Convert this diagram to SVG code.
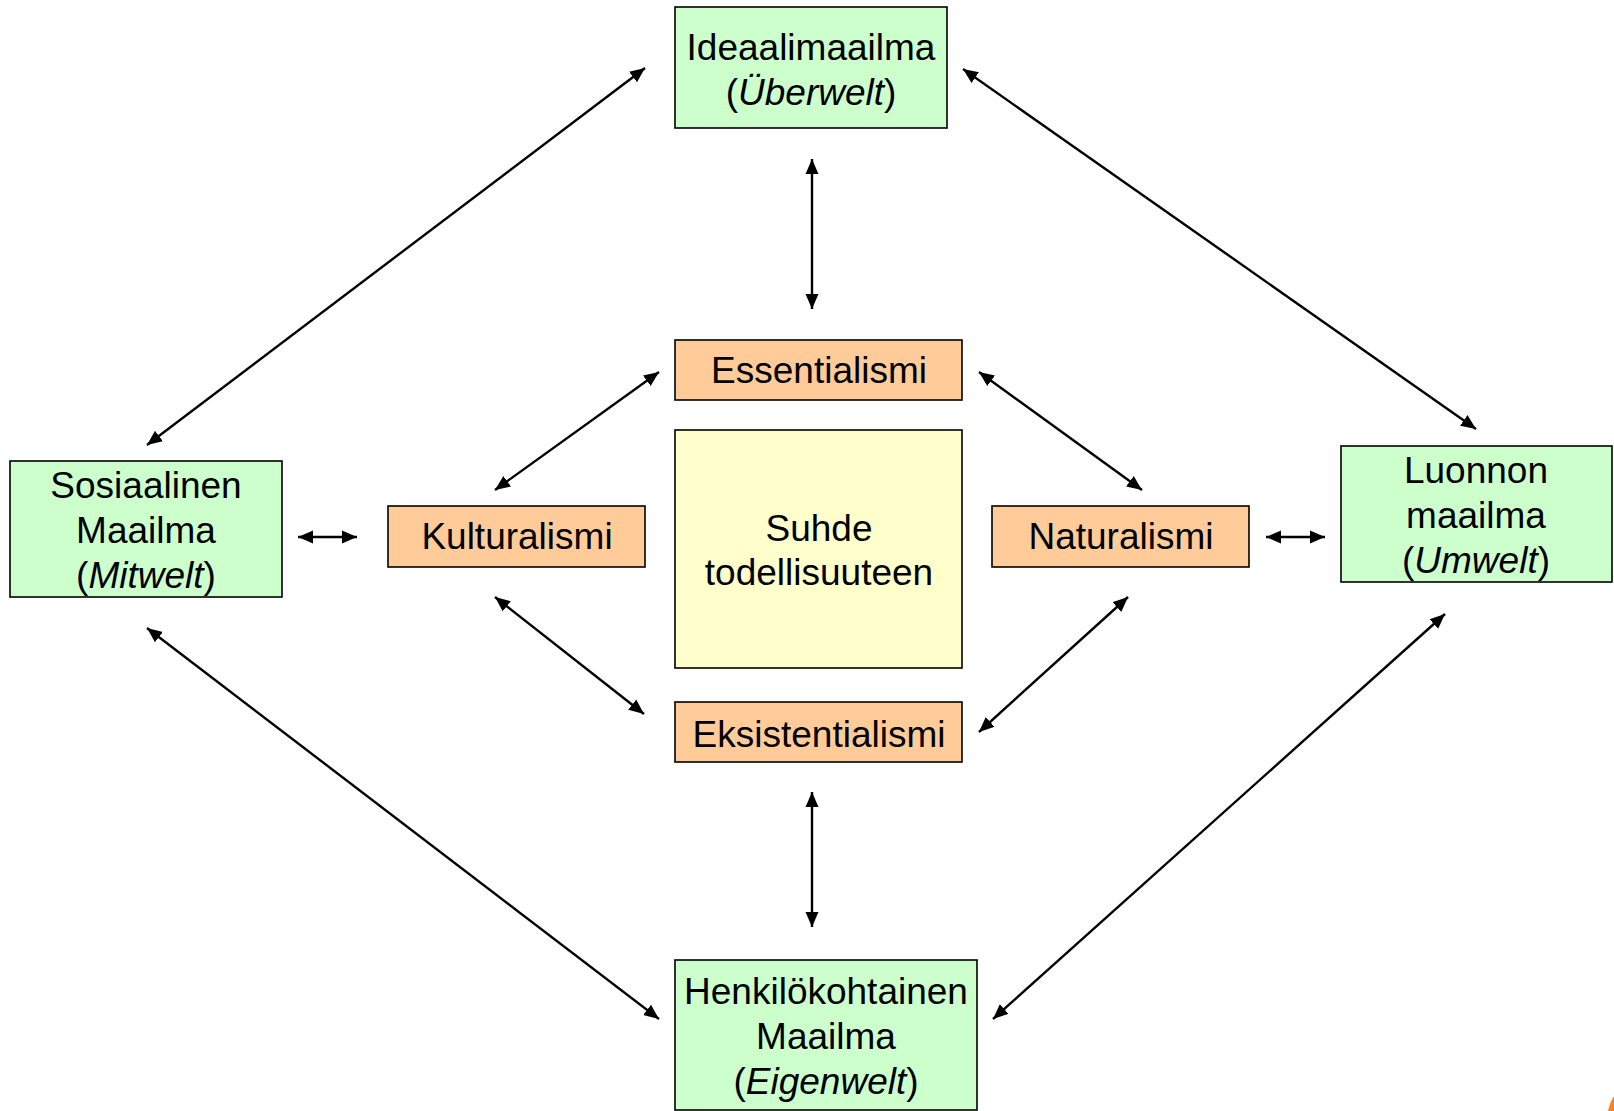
<svg xmlns="http://www.w3.org/2000/svg" width="1614" height="1111" viewBox="0 0 1614 1111">
<defs>
<marker id="ah" markerUnits="userSpaceOnUse" markerWidth="16" markerHeight="14" refX="15" refY="7" orient="auto-start-reverse">
<path d="M0,0.5 L15,7 L0,13.5 z" fill="#000"/>
</marker>
<style>
.g{fill:#CCFFCC;stroke:#000;stroke-width:1.6}
.o{fill:#FFCC99;stroke:#000;stroke-width:1.6}
.y{fill:#FFFFCC;stroke:#000;stroke-width:1.6}
text{font-family:"Liberation Sans",Arial,sans-serif;font-size:37px;fill:#000;text-anchor:middle}
.i{font-style:italic}
.c line{stroke:#000;stroke-width:2.4;marker-start:url(#ah);marker-end:url(#ah)}
</style>
</defs>
<rect width="1614" height="1111" fill="#fff"/>
<g class="c" id="connectors">
<line x1="645" y1="68" x2="147" y2="445"/>
<line x1="963" y1="69" x2="1476" y2="429"/>
<line x1="812" y1="159" x2="812" y2="309"/>
<line x1="659" y1="372" x2="495" y2="490"/>
<line x1="979" y1="372" x2="1142" y2="490"/>
<line x1="298" y1="537" x2="357" y2="537"/>
<line x1="1266" y1="537" x2="1325" y2="537"/>
<line x1="495" y1="597" x2="644" y2="714"/>
<line x1="1128" y1="597" x2="979" y2="732"/>
<line x1="812" y1="792" x2="812" y2="927"/>
<line x1="147" y1="628" x2="659" y2="1019"/>
<line x1="1445" y1="614" x2="993" y2="1019"/>
</g>
<g id="ideaal"><rect class="g" x="675" y="7" width="272" height="121"/>
<text x="811" y="60">Ideaalimaailma</text><text x="811" y="105">(<tspan class="i">Überwelt</tspan>)</text></g>
<g id="essential"><rect class="o" x="675" y="340" width="287" height="60"/><text x="819" y="383">Essentialismi</text></g>
<g id="suhde"><rect class="y" x="675" y="430" width="287" height="238"/><text x="819" y="541">Suhde</text><text x="819" y="585">todellisuuteen</text></g>
<g id="eksist"><rect class="o" x="675" y="702" width="287" height="60"/><text x="819" y="747">Eksistentialismi</text></g>
<g id="kultur"><rect class="o" x="388" y="506" width="257" height="61"/><text x="517" y="549">Kulturalismi</text></g>
<g id="natural"><rect class="o" x="992" y="506" width="257" height="61"/><text x="1121" y="549">Naturalismi</text></g>
<g id="sosiaal"><rect class="g" x="10" y="461" width="272" height="136"/>
<text x="146" y="498">Sosiaalinen</text><text x="146" y="543">Maailma</text><text x="146" y="588">(<tspan class="i">Mitwelt</tspan>)</text></g>
<g id="luonnon"><rect class="g" x="1341" y="446" width="271" height="136"/>
<text x="1476" y="483">Luonnon</text><text x="1476" y="528">maailma</text><text x="1476" y="573">(<tspan class="i">Umwelt</tspan>)</text></g>
<g id="henkilo"><rect class="g" x="675" y="960" width="302" height="150"/>
<text x="826" y="1004">Henkilökohtainen</text><text x="826" y="1049">Maailma</text><text x="826" y="1094">(<tspan class="i">Eigenwelt</tspan>)</text></g>
<path d="M1608,1111 Q1610,1102 1614,1096 L1614,1111 z" fill="#F5852A"/>
</svg>
